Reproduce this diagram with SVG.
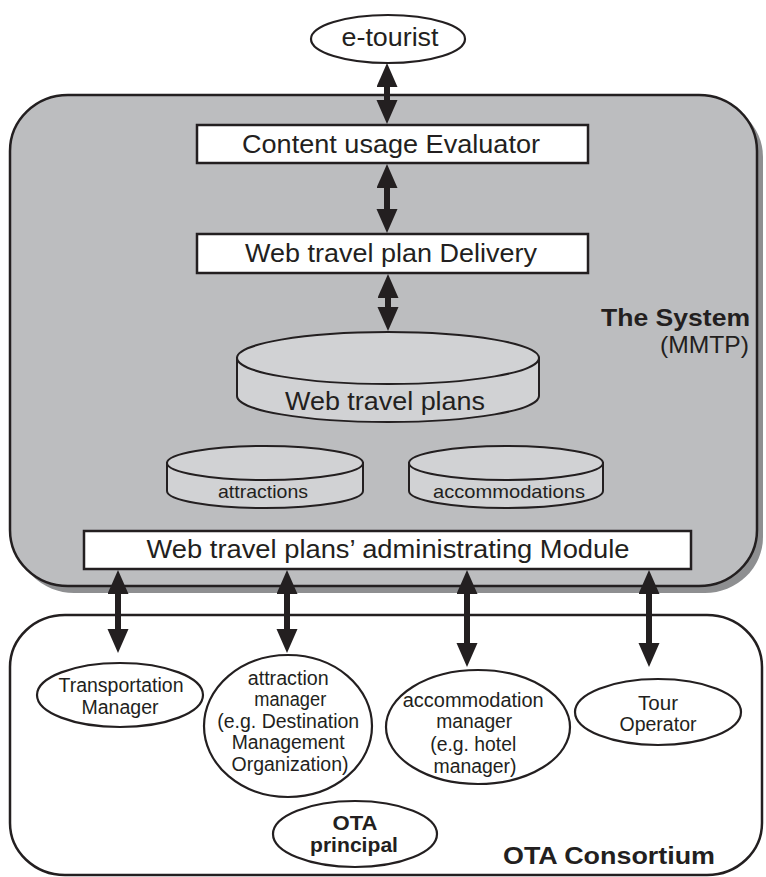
<svg xmlns="http://www.w3.org/2000/svg" width="766" height="877" viewBox="0 0 766 877">
  <style>
    text { font-family: "Liberation Sans", Arial, Helvetica, sans-serif; fill: #231f20; }
    .box { fill: #ffffff; stroke: #231f20; stroke-width: 2.5; }
    .oval { fill: #ffffff; stroke: #231f20; stroke-width: 2.2; }
    .cyl { fill: #d1d2d4; stroke: #231f20; stroke-width: 2; }
    .lbl { font-size: 25px; text-anchor: middle; }
    .small { font-size: 19px; text-anchor: middle; }
    .node { font-size: 20px; text-anchor: middle; }
    .bold { font-weight: bold; }
    .link { stroke: #231f20; stroke-width: 6; fill: none; marker-start: url(#head); marker-end: url(#head); }
  </style>
  <defs>
    <marker id="head" markerUnits="userSpaceOnUse" markerWidth="24" markerHeight="22" refX="11" refY="10.5" orient="auto-start-reverse" viewBox="0 0 24 22">
      <path d="M0,0 L24,10.5 L0,21 Z" fill="#231f20"/>
    </marker>
  </defs>

  <!-- MMTP system container -->
  <g id="system">
    <rect x="16" y="101" width="747" height="492" rx="58" ry="56" fill="#8e8f91"/>
    <rect x="10" y="95" width="747" height="491" rx="58" ry="56" fill="#bcbdbf" stroke="#231f20" stroke-width="2.5"/>
    <text x="750" y="326" class="bold" font-size="24" text-anchor="end" textLength="149" lengthAdjust="spacingAndGlyphs">The System</text>
    <text x="749" y="353" font-size="24" text-anchor="end" textLength="89" lengthAdjust="spacingAndGlyphs">(MMTP)</text>
  </g>

  <!-- OTA consortium container -->
  <g id="consortium">
    <rect x="10" y="615" width="752" height="260" rx="55" ry="52" fill="#ffffff" stroke="#231f20" stroke-width="2.5"/>
    <text x="609" y="864" class="bold" font-size="24" text-anchor="middle" textLength="212" lengthAdjust="spacingAndGlyphs">OTA Consortium</text>
  </g>

  <g id="e-tourist">
    <ellipse cx="388" cy="39" rx="77" ry="24" class="oval"/>
    <text x="390" y="46" class="lbl" textLength="97" lengthAdjust="spacingAndGlyphs">e-tourist</text>
  </g>

  <g id="content-usage-evaluator">
    <rect x="197" y="125" width="391" height="38" class="box"/>
    <text x="391" y="153" class="lbl" textLength="298" lengthAdjust="spacingAndGlyphs">Content usage Evaluator</text>
  </g>

  <g id="travel-plan-delivery">
    <rect x="197" y="234" width="391" height="39" class="box"/>
    <text x="391" y="262" class="lbl" textLength="292" lengthAdjust="spacingAndGlyphs">Web travel plan Delivery</text>
  </g>

  <g id="web-travel-plans">
    <path d="M237,358 L237,396 A151,26 0 0 0 539,396 L539,358 Z" class="cyl"/>
    <ellipse cx="388" cy="358" rx="151" ry="26" class="cyl"/>
    <text x="385" y="410" class="lbl" textLength="200" lengthAdjust="spacingAndGlyphs">Web travel plans</text>
  </g>

  <g id="attractions">
    <path d="M167,463 L167,491 A98,17 0 0 0 363,491 L363,463 Z" class="cyl"/>
    <ellipse cx="265" cy="463" rx="98" ry="17" class="cyl"/>
    <text x="263" y="498" class="small" textLength="90" lengthAdjust="spacingAndGlyphs">attractions</text>
  </g>

  <g id="accommodations">
    <path d="M409,463 L409,491 A97,17 0 0 0 603,491 L603,463 Z" class="cyl"/>
    <ellipse cx="506" cy="463" rx="97" ry="17" class="cyl"/>
    <text x="509" y="498" class="small" textLength="152" lengthAdjust="spacingAndGlyphs">accommodations</text>
  </g>

  <g id="administrating-module">
    <rect x="84" y="531" width="607" height="38" class="box"/>
    <text x="388" y="558" class="lbl" textLength="483" lengthAdjust="spacingAndGlyphs">Web travel plans’ administrating Module</text>
  </g>

  <g id="transportation-manager">
    <ellipse cx="120" cy="695" rx="83" ry="32" class="oval"/>
    <text class="node"><tspan x="121" y="692" textLength="125" lengthAdjust="spacingAndGlyphs">Transportation</tspan><tspan x="120" y="714" textLength="77" lengthAdjust="spacingAndGlyphs">Manager</tspan></text>
  </g>

  <g id="attraction-manager">
    <ellipse cx="288" cy="726" rx="84" ry="71" class="oval"/>
    <text class="node">
      <tspan x="291" y="685" textLength="81" lengthAdjust="spacingAndGlyphs">attraction</tspan>
      <tspan x="293" y="706" textLength="72" lengthAdjust="spacingAndGlyphs">manager</tspan>
      <tspan x="291" y="728" textLength="142" lengthAdjust="spacingAndGlyphs">(e.g. Destination</tspan>
      <tspan x="291" y="749" textLength="113" lengthAdjust="spacingAndGlyphs">Management</tspan>
      <tspan x="290" y="771" textLength="117" lengthAdjust="spacingAndGlyphs">Organization)</tspan>
    </text>
  </g>

  <g id="accommodation-manager">
    <ellipse cx="478" cy="727" rx="92" ry="57" class="oval"/>
    <text class="node">
      <tspan x="476" y="707" textLength="141" lengthAdjust="spacingAndGlyphs">accommodation</tspan>
      <tspan x="477" y="728" textLength="76" lengthAdjust="spacingAndGlyphs">manager</tspan>
      <tspan x="476" y="751" textLength="86" lengthAdjust="spacingAndGlyphs">(e.g. hotel</tspan>
      <tspan x="475" y="773" textLength="83" lengthAdjust="spacingAndGlyphs">manager)</tspan>
    </text>
  </g>

  <g id="tour-operator">
    <ellipse cx="658" cy="712" rx="83" ry="33" class="oval"/>
    <text class="node"><tspan x="658" y="710" textLength="40" lengthAdjust="spacingAndGlyphs">Tour</tspan><tspan x="658" y="731" textLength="77" lengthAdjust="spacingAndGlyphs">Operator</tspan></text>
  </g>

  <g id="ota-principal">
    <ellipse cx="355" cy="834" rx="82" ry="33" class="oval"/>
    <text class="node bold"><tspan x="355" y="830" textLength="45" lengthAdjust="spacingAndGlyphs">OTA</tspan><tspan x="354" y="852" textLength="88" lengthAdjust="spacingAndGlyphs">principal</tspan></text>
  </g>

  <!-- two-way data flows -->
  <g id="connectors">
    <line x1="387" y1="76" x2="387" y2="111" class="link"/>
    <line x1="387" y1="177" x2="387" y2="220" class="link"/>
    <line x1="388" y1="287" x2="388" y2="318" class="link"/>
    <line x1="118" y1="583" x2="118" y2="640" class="link"/>
    <line x1="287" y1="583" x2="287" y2="640" class="link"/>
    <line x1="467" y1="583" x2="467" y2="654" class="link"/>
    <line x1="649" y1="583" x2="649" y2="654" class="link"/>
  </g>
</svg>
